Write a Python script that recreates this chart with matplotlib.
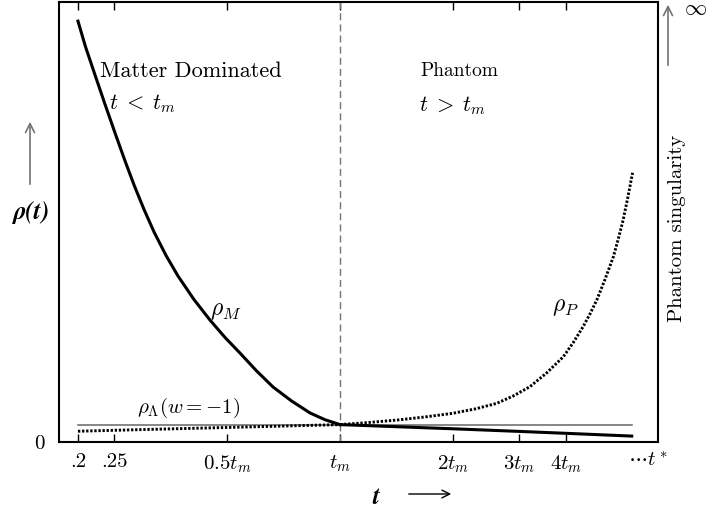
import matplotlib
matplotlib.use('Agg')
import matplotlib.pyplot as plt
from matplotlib.ticker import NullLocator

plt.rcParams['font.family'] = 'serif'
plt.rcParams['font.serif'] = ['cmr10']
plt.rcParams['mathtext.fontset'] = 'cm'
plt.rcParams['axes.unicode_minus'] = False
plt.rcParams['axes.formatter.use_mathtext'] = True

# densities in units of rho(t_m), time in units of t_m
t_matter = [0.2, 0.2096, 0.2222, 0.2362, 0.2512, 0.2662, 0.2823, 0.3001, 0.3192,
            0.3436, 0.3698, 0.4079, 0.45, 0.4935, 0.5412, 0.5988, 0.6629, 0.7424,
            0.8318, 0.912, 1.0]
rho_matter = [24.2, 22.71, 21.09, 19.41, 17.76, 16.24, 14.77, 13.37, 12.07,
              10.72, 9.54, 8.19, 7.01, 6.01, 5.11, 4.09, 3.16, 2.36,
              1.67, 1.28, 1.0]

t_late = [1.0, 2.0, 3.0, 4.0, 6.0]
rho_late = [1.0, 0.76, 0.61, 0.50, 0.34]

t_phantom_early = [0.2, 1.0]
rho_phantom_early = [0.62, 1.0]

t_phantom = [1.0, 1.1906, 1.416, 1.685, 2.0, 2.291, 2.616, 2.901, 3.21, 3.557,
             3.94, 4.19, 4.45, 4.642, 4.84, 5.089, 5.36, 5.523, 5.69, 5.861, 6.03]
rho_phantom = [1.0, 1.12, 1.26, 1.44, 1.65, 1.90, 2.22, 2.65, 3.18, 3.97,
               4.90, 5.72, 6.63, 7.36, 8.16, 9.34, 10.65, 11.67, 12.76, 14.09, 15.48]

t_lambda = [0.2, 6.0]
rho_lambda = [1.0, 1.0]

tick_pos = [0.2, 0.25, 0.5, 1, 2, 3, 4]
tick_labels = ['.2', '.25', r'$0.5t_m$', r'$t_m$', r'$2t_m$', r'$3t_m$', r'$4t_m$']

W, H = 706, 512


def px(x, y):
    # pixel position (from top left) -> figure fraction
    return x / W, 1 - y / H


fig = plt.figure(figsize=(W / 100, H / 100), dpi=100)
ax = fig.add_axes([59 / W, 70 / H, (658 - 59) / W, (510 - 70) / H])
ax.set_xscale('log')
ax.set_xlim(0.178, 7.05)
ax.set_ylim(0, 25.3)

dotted = (0, (0.8, 0.6))
ax.plot(t_lambda, rho_lambda, color='0.4', lw=1.1)
ax.axvline(1.0, color='0.45', lw=1, ls=(0, (5, 3)))
ax.plot(t_phantom_early, rho_phantom_early, color='k', lw=2.1, ls=dotted)
ax.plot(t_phantom, rho_phantom, color='k', lw=2.1, ls=dotted)
ax.plot(t_matter, rho_matter, color='k', lw=2.2)
ax.plot(t_late, rho_late, color='k', lw=2.2)

ax.set_xticks(tick_pos)
ax.set_xticklabels(tick_labels)
ax.xaxis.set_minor_locator(NullLocator())
ax.tick_params(axis='x', which='major', direction='in', top=True, length=6,
               width=1, labelsize=15, pad=8)
ax.set_yticks([0])
ax.set_yticklabels(['0'])
ax.tick_params(axis='y', length=0, pad=10, labelsize=15)
for s in ax.spines.values():
    s.set_linewidth(1.5)

# annotations
fig.text(*px(100, 71), 'Matter Dominated', fontsize=16, ha='left', va='center')
fig.text(*px(109, 104), r'$t\;<\;t_m$', fontsize=16, ha='left', va='center')
fig.text(*px(459, 71), 'Phantom', fontsize=14, ha='center', va='center')
fig.text(*px(453, 106), r'$t\;>\;t_m$', fontsize=16, ha='center', va='center')
fig.text(*px(226, 311), r'$\rho_M$', fontsize=17, ha='center', va='center')
fig.text(*px(565, 307), r'$\rho_P$', fontsize=17, ha='center', va='center')
fig.text(*px(189, 408), r'$\rho_\Lambda(w=-1)$', fontsize=15, ha='center', va='center')
fig.text(*px(648, 461), r'$\cdots t^*$', fontsize=15, ha='center', va='center')

fig.text(*px(31, 212), 'ρ(t)', family='STIXGeneral', weight='bold', style='italic',
         fontsize=18, ha='center', va='center')
ax.annotate('', xy=px(30, 119), xytext=px(30, 187), xycoords='figure fraction',
            arrowprops=dict(arrowstyle='->', color='0.45', lw=1.2, mutation_scale=16))

fig.text(*px(376, 497), 't', family='STIXGeneral', weight='bold', style='italic',
         fontsize=18, ha='center', va='center')
ax.annotate('', xy=px(454, 494), xytext=px(406, 494), xycoords='figure fraction',
            arrowprops=dict(arrowstyle='->', color='k', lw=1, mutation_scale=14))

fig.text(*px(677, 228), 'Phantom singularity', fontsize=15, rotation=90,
         ha='center', va='center')
ax.annotate('', xy=px(668, 2), xytext=px(668, 68), xycoords='figure fraction',
            arrowprops=dict(arrowstyle='->', color='0.45', lw=1.2, mutation_scale=16))
fig.text(*px(695, 9), r'$\infty$', fontsize=16, ha='center', va='center')

fig.savefig('out.png', dpi=100)
